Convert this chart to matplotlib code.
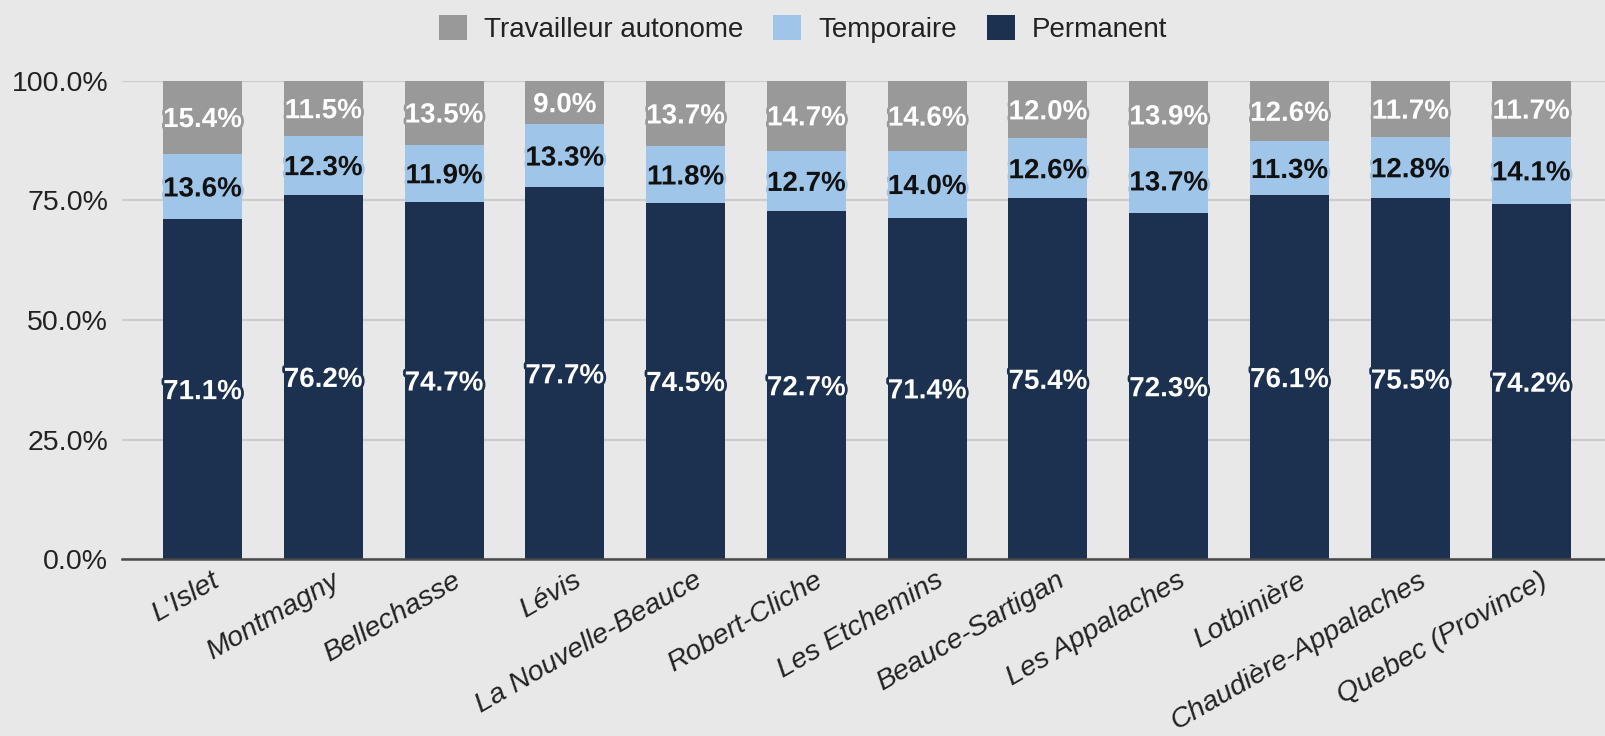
import matplotlib
matplotlib.use('Agg')
import matplotlib.pyplot as plt
import matplotlib.patheffects as pe
from matplotlib.patches import Patch
from matplotlib.transforms import ScaledTranslation
import numpy as np

plt.rcParams['font.family'] = ['Liberation Sans', 'DejaVu Sans']

regions = ["L'Islet", "Montmagny", "Bellechasse", "Lévis", "La Nouvelle-Beauce",
           "Robert-Cliche", "Les Etchemins", "Beauce-Sartigan", "Les Appalaches",
           "Lotbinière", "Chaudière-Appalaches", "Quebec (Province)"]
permanent = [71.1, 76.2, 74.7, 77.7, 74.5, 72.7, 71.4, 75.4, 72.3, 76.1, 75.5, 74.2]
temporaire = [13.6, 12.3, 11.9, 13.3, 11.8, 12.7, 14.0, 12.6, 13.7, 11.3, 12.8, 14.1]
autonome = [15.4, 11.5, 13.5, 9.0, 13.7, 14.7, 14.6, 12.0, 13.9, 12.6, 11.7, 11.7]

series = [
    ("Permanent", permanent, "#1c3050", "white"),
    ("Temporaire", temporaire, "#9fc5e8", "#111111"),
    ("Travailleur autonome", autonome, "#999999", "white"),
]

bg = "#e8e8e8"
fig = plt.figure(figsize=(16.06, 7.36), dpi=100, facecolor=bg)
ax = fig.add_axes([0.076, 0.2401, 0.924, 0.6503], facecolor=bg)

x = np.arange(len(regions))
bottom = np.zeros(len(regions))
for name, vals, color, tcolor in series:
    vals = np.array(vals)
    ax.bar(x, vals, bottom=bottom, width=0.654, color=color, zorder=3, label=name)
    for xi, b, v in zip(x, bottom, vals):
        ax.text(xi, b + v / 2, f"{v:.1f}%", ha='center', va='center_baseline',
                fontsize=20, fontweight='bold', color=tcolor, zorder=5,
                path_effects=[pe.withStroke(linewidth=4, foreground=color)])
    bottom += vals

ax.set_xlim(-0.666, 11.62)
ax.set_ylim(0, 100)
ax.set_yticks([0, 25, 50, 75, 100])
ax.set_yticklabels([f"{t:.1f}%" for t in [0, 25, 50, 75, 100]], fontsize=20.5, color='#222222')
ax.tick_params(axis='y', length=0, pad=10)
ax.grid(axis='y', color='#cccccc', linewidth=1.6, zorder=0)
ax.axhline(0, color='#4a4a4a', linewidth=1.8, zorder=4, clip_on=False)

ax.set_xticks(x)
ax.set_xticklabels(regions, rotation=30, ha='right', rotation_mode='anchor',
                   fontsize=20.5, fontstyle='italic', color='#222222')
ax.tick_params(axis='x', length=0, pad=6)
shift = ScaledTranslation(8 / 100, 0, fig.dpi_scale_trans)
for lbl in ax.get_xticklabels():
    lbl.set_transform(lbl.get_transform() + shift)

for s in ax.spines.values():
    s.set_visible(False)

handles = [Patch(facecolor=c, edgecolor='none', label=n)
           for n, _, c, _ in reversed(series)]
fig.legend(handles=handles, loc='center', bbox_to_anchor=(0.5, 0.961), ncol=3,
           frameon=False, fontsize=20, handlelength=1.0, handleheight=1.0,
           handletextpad=0.6, columnspacing=1.1, labelcolor='#222222')

fig.savefig('out.png', dpi=100, facecolor=bg)
